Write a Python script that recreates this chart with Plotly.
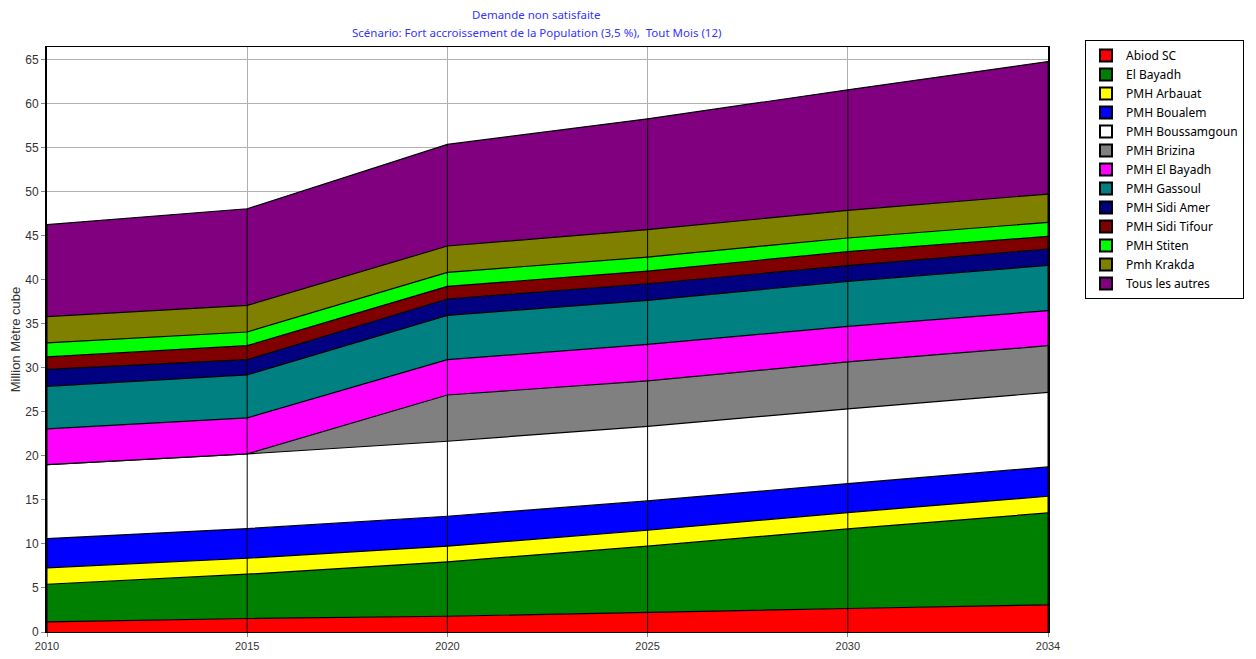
import plotly.graph_objects as go

years = ["2010", "2015", "2020", "2025", "2030", "2034"]

abiod_sc = [1.15, 1.53, 1.79, 2.25, 2.67, 3.08]
el_bayadh = [4.27, 5.03, 6.17, 7.49, 9.03, 10.44]
pmh_arbauat = [1.86, 1.81, 1.78, 1.81, 1.86, 1.89]
pmh_boualem = [3.32, 3.37, 3.40, 3.33, 3.29, 3.33]
pmh_boussamgoun = [8.40, 8.47, 8.51, 8.47, 8.47, 8.46]
pmh_brizina = [0.0, 0.0, 5.25, 5.15, 5.33, 5.30]
pmh_el_bayadh = [4.05, 4.09, 4.01, 4.15, 4.04, 3.97]
pmh_gassoul = [4.84, 4.88, 5.03, 4.99, 5.11, 5.14]
pmh_sidi_amer = [1.92, 1.73, 1.86, 1.89, 1.78, 1.86]
pmh_sidi_tifour = [1.41, 1.59, 1.43, 1.44, 1.59, 1.43]
pmh_stiten = [1.59, 1.55, 1.59, 1.59, 1.55, 1.59]
pmh_krakda = [2.98, 3.02, 2.99, 3.10, 3.13, 3.22]
tous_les_autres = [10.44, 10.97, 11.53, 12.59, 13.69, 15.04]

series = [
    ("Abiod SC", abiod_sc, "#ff0000"),
    ("El Bayadh", el_bayadh, "#008000"),
    ("PMH Arbauat", pmh_arbauat, "#ffff00"),
    ("PMH Boualem", pmh_boualem, "#0000ff"),
    ("PMH Boussamgoun", pmh_boussamgoun, "#ffffff"),
    ("PMH Brizina", pmh_brizina, "#808080"),
    ("PMH El Bayadh", pmh_el_bayadh, "#ff00ff"),
    ("PMH Gassoul", pmh_gassoul, "#008080"),
    ("PMH Sidi Amer", pmh_sidi_amer, "#000080"),
    ("PMH Sidi Tifour", pmh_sidi_tifour, "#800000"),
    ("PMH Stiten", pmh_stiten, "#00ff00"),
    ("Pmh Krakda", pmh_krakda, "#808000"),
    ("Tous les autres", tous_les_autres, "#800080"),
]

fig = go.Figure()
for name, vals, col in series:
    fig.add_trace(go.Scatter(
        x=years, y=vals, name=name, mode="lines", stackgroup="one",
        fillcolor=col, line=dict(color="black", width=1.2), showlegend=False,
    ))

# legend swatches (filled boxes with black border)
for name, vals, col in series:
    fig.add_trace(go.Bar(
        x=[None], y=[None], name=name,
        marker=dict(color=col, line=dict(color="black", width=1)),
    ))

# black vertical edges of each segment, from 0 to the stacked total
totals = [sum(v) for v in zip(*[s[1] for s in series])]
vx, vy = [], []
for yr, tot in zip(years, totals):
    vx += [yr, yr, None]
    vy += [0, tot, None]
fig.add_trace(go.Scatter(x=vx, y=vy, mode="lines", showlegend=False,
                         line=dict(color="black", width=1), hoverinfo="skip"))

# page body adds an 8px offset, so the figure is laid out 8px smaller
L, T, PW, PH = 39, 39, 1001, 585
title_font = dict(family="Noto Sans, Open Sans, sans-serif", size=11.5, color="#3333ff")
fig.add_annotation(text="Demande non satisfaite", xref="paper", yref="paper",
                   x=0.489, y=1.0 + (T - 7) / PH, xanchor="center", yanchor="middle",
                   showarrow=False, font=title_font)
fig.add_annotation(text="Scénario: Fort accroissement de la Population (3,5 %),  Tout Mois (12)",
                   xref="paper", yref="paper",
                   x=0.489, y=1.0 + (T - 24) / PH, xanchor="center", yanchor="middle",
                   showarrow=False, font=title_font)

fig.update_layout(
    width=1248,
    height=651,
    margin=dict(l=L, r=1248 - L - PW, t=T, b=651 - T - PH, autoexpand=False),
    paper_bgcolor="white",
    plot_bgcolor="white",
    barmode="overlay",
    font=dict(family="Liberation Sans Narrow, Liberation Sans, Arial", size=12, color="#333333"),
    legend=dict(
        x=(1077 - L) / PW, y=1.0 + (T - 32) / PH, xanchor="left", yanchor="top",
        bordercolor="black", borderwidth=1, bgcolor="white",
        traceorder="normal", tracegroupgap=0, itemsizing="constant",
        font=dict(family="Noto Sans, Open Sans, sans-serif", size=12, color="black"),
    ),
    xaxis=dict(
        type="category", range=[0, 5], showgrid=True, gridcolor="#b0b0b0",
        ticks="outside", ticklen=4, tickcolor="#888888",
        showline=True, linecolor="black", linewidth=1, mirror=True,
        tickfont=dict(size=11), zeroline=False, automargin=False,
    ),
    yaxis=dict(
        range=[0, 66.4], dtick=5, showgrid=True, gridcolor="#b0b0b0",
        ticks="outside", ticklen=4, tickcolor="#888888",
        showline=True, linecolor="black", linewidth=2, mirror=True,
        tickfont=dict(size=12), zeroline=False, automargin=False,
        title=dict(text="Million Mètre cube", standoff=6, font=dict(size=13)),
    ),
)

fig.write_html("out.html")
